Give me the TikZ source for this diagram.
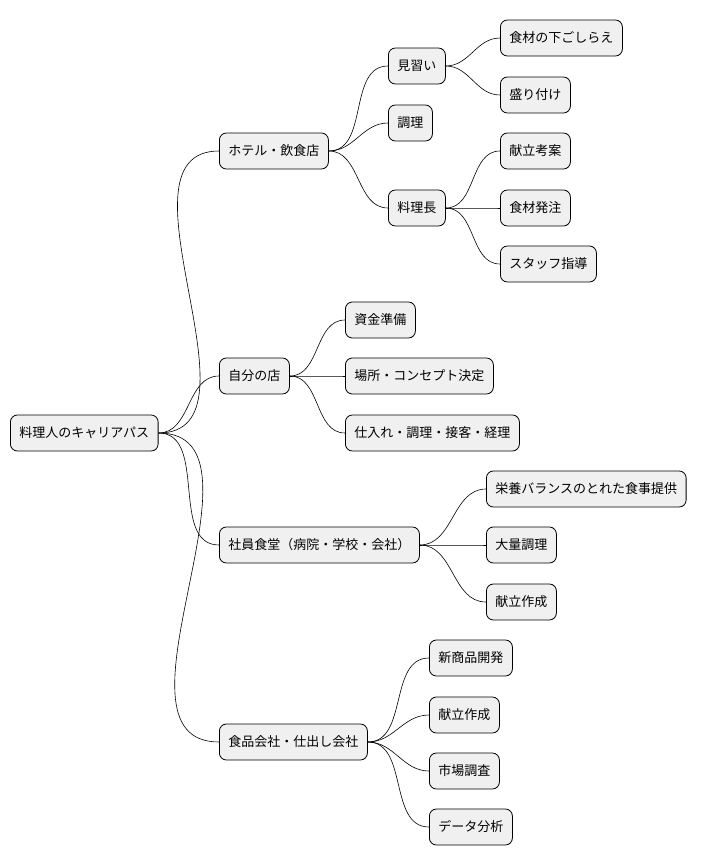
\documentclass[tikz,border=0pt]{standalone}
\usepackage{fontspec}
\setmainfont{Noto Sans CJK JP}
\begin{document}
\begin{tikzpicture}[x=1pt,y=-1pt,
  box/.style={draw=black,fill=black!6,rounded corners=7pt,line width=0.8pt,minimum height=36pt,inner xsep=9pt,anchor=west,font=\fontsize{13}{15}\selectfont},
  lk/.style={line width=0.6pt}]
\useasboundingbox (0,0) rectangle (712,865);
\node[box] (r) at (10,433) {料理人のキャリアパス};
\node[box] (h) at (219,151) {ホテル・飲食店};
\node[box] (h1) at (388,66) {見習い};
\node[box] (h11) at (500,38) {食材の下ごしらえ};
\node[box] (h12) at (500,95) {盛り付け};
\node[box] (h2) at (388,123) {調理};
\node[box] (h3) at (388,208) {料理長};
\node[box] (h31) at (500,151) {献立考案};
\node[box] (h32) at (500,208) {食材発注};
\node[box] (h33) at (500,264) {スタッフ指導};
\node[box] (s) at (219,376) {自分の店};
\node[box] (s1) at (345,320) {資金準備};
\node[box] (s2) at (345,376) {場所・コンセプト決定};
\node[box] (s3) at (345,433) {仕入れ・調理・接客・経理};
\node[box] (c) at (219,545) {社員食堂（病院・学校・会社）};
\node[box] (c1) at (486,489) {栄養バランスのとれた食事提供};
\node[box] (c2) at (486,545) {大量調理};
\node[box] (c3) at (486,602) {献立作成};
\node[box] (f) at (219,742) {食品会社・仕出し会社};
\node[box] (f1) at (429,658) {新商品開発};
\node[box] (f2) at (429,715) {献立作成};
\node[box] (f3) at (429,771) {市場調査};
\node[box] (f4) at (429,827) {データ分析};
\foreach \a/\b in {r/h,r/s,r/c,r/f,h/h1,h/h2,h/h3,h1/h11,h1/h12,h3/h31,h3/h32,h3/h33,s/s1,s/s2,s/s3,c/c1,c/c2,c/c3,f/f1,f/f2,f/f3,f/f4}
  \draw[lk] (\a.east) to[out=0,in=180] (\b.west);
\end{tikzpicture}
\end{document}
